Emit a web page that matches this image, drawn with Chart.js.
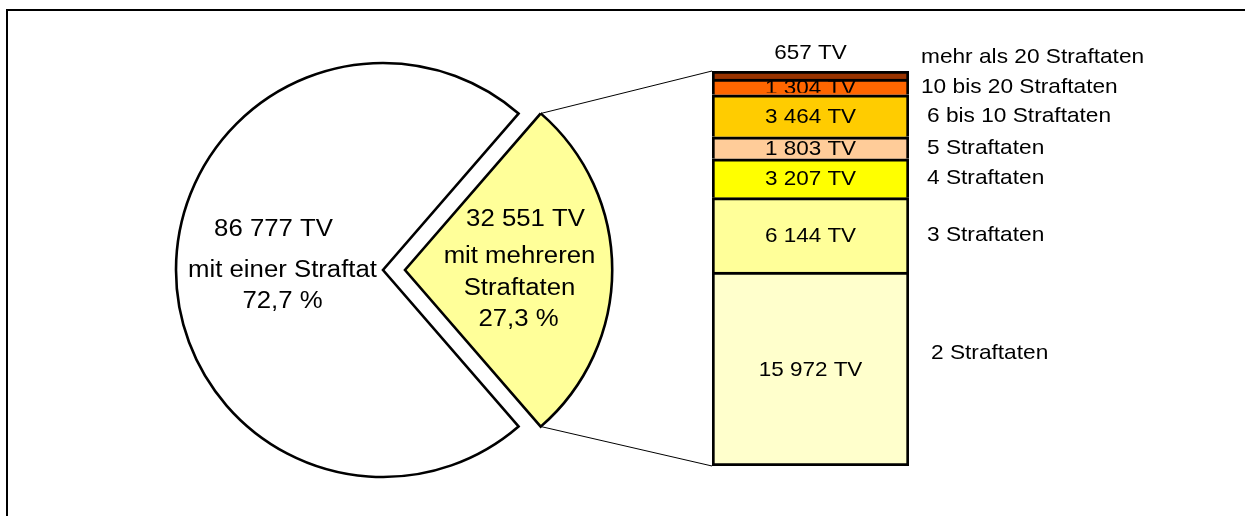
<!DOCTYPE html>
<html>
<head>
<meta charset="utf-8">
<script src="https://cdn.jsdelivr.net/npm/chart.js@4/dist/chart.umd.min.js"></script>
<style>
  html, body { margin: 0; padding: 0; background: #fff; width: 1245px; height: 516px; overflow: hidden; }
  #wrap { position: relative; width: 1245px; height: 516px; overflow: hidden; }
  #frame { position: absolute; left: 6px; top: 9px; width: 1300px; height: 600px; border: 2px solid #000; box-sizing: border-box; }
  canvas { position: absolute; }
</style>
</head>
<body>
<div id="wrap">
  <div id="frame"></div>
  <canvas id="pie" width="480" height="480" style="left:143px;top:30px;"></canvas>
  <canvas id="bar" width="545" height="516" style="left:700px;top:0px;"></canvas>
  <canvas id="overlay" width="1245" height="516" style="left:0;top:0;pointer-events:none;"></canvas>
</div>
<script>
// ---- data ----
const pieCategories = ['mit mehreren Straftaten', 'mit einer Straftat'];
const pieValues = [32551, 86777];
const pieColors = ['#FFFF99', '#FFFFFF'];

const barCategories = ['2 Straftaten', '3 Straftaten', '4 Straftaten', '5 Straftaten',
                       '6 bis 10 Straftaten', '10 bis 20 Straftaten', 'mehr als 20 Straftaten'];
const barValues = [15972, 6144, 3207, 1803, 3464, 1304, 657];
const barColors = ['#FFFFCC', '#FFFF99', '#FFFF00', '#FFCC99', '#FFCC00', '#FF6600', '#993300'];

// ---- helpers ----
const FONT = '"Liberation Sans", Arial, sans-serif';
function fmt(v) { return String(v).replace(/\B(?=(\d{3})+(?!\d))/g, ' '); }
function pct(v, tot) { return (v / tot * 100).toFixed(1).replace('.', ',') + ' %'; }
function txt(ctx, s, x, y, size, sx, align) {
  ctx.save();
  ctx.translate(x, y);
  ctx.scale(sx, 1);
  ctx.font = size + 'px ' + FONT;
  ctx.textAlign = align || 'center';
  ctx.textBaseline = 'middle';
  ctx.fillStyle = '#000';
  ctx.fillText(s, 0, 0);
  ctx.restore();
}

const pieTotal = pieValues.reduce((a, b) => a + b, 0);
const barTotal = barValues.reduce((a, b) => a + b, 0);
const EXPLODE = 22; // pixel shift of the exploded slice (Chart.js v4 translates by offset/4)
const yellowFrac = pieValues[0] / pieTotal;

// ---- pie ----
const pieLabelPlugin = {
  id: 'pieLabels',
  afterDatasetsDraw(chart) {
    const ctx = chart.ctx;
    const arcs = chart.getDatasetMeta(0).data;
    const lines = [
      [fmt(pieValues[0]) + ' TV', 'mit mehreren', 'Straftaten', pct(pieValues[0], pieTotal)],
      [fmt(pieValues[1]) + ' TV', 'mit einer Straftat', pct(pieValues[1], pieTotal)]
    ];
    const dys = [[-50, -13, 19, 50], [-40, 1, 32]];
    const dxs = [[17, 11, 11, 10], [-6, 3, 3]];
    arcs.forEach((arc, i) => {
      const mid = (arc.startAngle + arc.endAngle) / 2;
      const shift = (arc.options.offset || 0) / 4;
      const r = arc.outerRadius / 2 + shift;
      const cx = arc.x + Math.cos(mid) * r;
      const cy = arc.y + Math.sin(mid) * r;
      lines[i].forEach((s, k) => txt(ctx, s, cx + dxs[i][k], cy + dys[i][k], 23, 1.12));
    });
  }
};

const pieChart = new Chart(document.getElementById('pie'), {
  type: 'pie',
  data: {
    labels: pieCategories,
    datasets: [{
      data: pieValues,
      backgroundColor: pieColors,
      borderColor: '#000',
      borderWidth: 2.6,
      borderJoinStyle: 'miter',
      offset: [EXPLODE * 4, 0],
      hoverOffset: 0
    }]
  },
  options: {
    responsive: false,
    animation: false,
    radius: 207,
    rotation: 90 - 180 * yellowFrac,
    events: [],
    plugins: { legend: { display: false }, tooltip: { enabled: false } }
  },
  plugins: [pieLabelPlugin]
});

// ---- stacked bar ----
const barLabelPlugin = {
  id: 'barLabels',
  afterDatasetsDraw(chart) {
    const ctx = chart.ctx;
    const n = barValues.length;
    const rightDx = [10, 6, 6, 6, 6, 0, 0];
    barValues.forEach((v, i) => {
      const el = chart.getDatasetMeta(i).data[0];
      const top = Math.min(el.y, el.base), bot = Math.max(el.y, el.base);
      const mid = (top + bot) / 2;
      const rightX = el.x + el.width / 2 + 12 + rightDx[i];
      if (i === n - 1) {
        txt(ctx, fmt(v) + ' TV', el.x, top - 18, 21, 1.07);
        txt(ctx, barCategories[i], rightX, top - 14, 21, 1.08, 'left');
      } else {
        ctx.save();
        ctx.beginPath();
        ctx.rect(el.x - el.width / 2, top, el.width, bot - top - 2);
        ctx.clip();
        txt(ctx, fmt(v) + ' TV', el.x, mid + 1, 21, 1.07);
        ctx.restore();
        const ly = i === 0 ? mid - 16 : mid;
        txt(ctx, barCategories[i], rightX, ly, 21, 1.08, 'left');
      }
    });
  }
};

const barChart = new Chart(document.getElementById('bar'), {
  type: 'bar',
  data: {
    labels: [''],
    datasets: barCategories.map((c, i) => ({
      label: c,
      data: [barValues[i]],
      backgroundColor: barColors[i],
      borderColor: '#000',
      borderWidth: 3,
      borderSkipped: i === 0 ? false : 'start',
      categoryPercentage: 1,
      barPercentage: 1
    }))
  },
  options: {
    responsive: false,
    animation: false,
    events: [],
    layout: { padding: { left: 12, right: 545 - 209, top: 71, bottom: 50 } },
    scales: {
      x: { display: false, stacked: true },
      y: { display: false, stacked: true, min: 0, max: barTotal }
    },
    plugins: { legend: { display: false }, tooltip: { enabled: false } }
  },
  plugins: [barLabelPlugin]
});

// ---- connector lines ----
(function () {
  const ctx = document.getElementById('overlay').getContext('2d');
  const pieOff = { x: 143, y: 30 }, barOff = { x: 700, y: 0 };
  const arc = pieChart.getDatasetMeta(0).data[0];
  const mid = (arc.startAngle + arc.endAngle) / 2;
  const shift = (arc.options.offset || 0) / 4;
  const cx = pieOff.x + arc.x + Math.cos(mid) * shift;
  const cy = pieOff.y + arc.y + Math.sin(mid) * shift;
  const R = arc.outerRadius;
  const p1 = { x: cx + Math.cos(arc.startAngle) * R, y: cy + Math.sin(arc.startAngle) * R };
  const p2 = { x: cx + Math.cos(arc.endAngle) * R, y: cy + Math.sin(arc.endAngle) * R };
  const topEl = barChart.getDatasetMeta(barValues.length - 1).data[0];
  const botEl = barChart.getDatasetMeta(0).data[0];
  const left = barOff.x + topEl.x - topEl.width / 2;
  const topY = barOff.y + Math.min(topEl.y, topEl.base);
  const botY = barOff.y + Math.max(botEl.y, botEl.base);
  ctx.strokeStyle = '#000';
  ctx.lineWidth = 1;
  ctx.beginPath();
  ctx.moveTo(p1.x, p1.y); ctx.lineTo(left, topY);
  ctx.moveTo(p2.x, p2.y); ctx.lineTo(left, botY);
  ctx.stroke();
})();
</script>
</body>
</html>
